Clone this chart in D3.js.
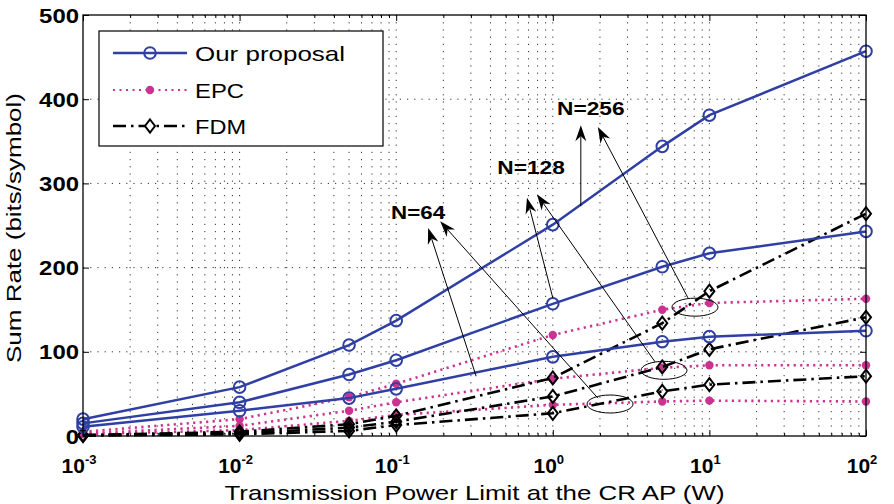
<!DOCTYPE html>
<html>
<head>
<meta charset="utf-8">
<script src="https://cdn.jsdelivr.net/npm/d3@7"></script>
<style>
  html, body { margin: 0; padding: 0; background: #fff; }
  svg { display: block; font-family: "Liberation Sans", Arial, Helvetica, sans-serif; }
</style>
</head>
<body>
<svg id="chart" width="894" height="504"></svg>
<script>
// Transmission power limits (W) at which each scheme was evaluated
const powerW = [0.001, 0.01, 0.05, 0.1, 1, 5, 10, 100];

// Sum rate (bits/symbol), proposed scheme
const oursN256 = [20, 58, 108, 137, 251, 344, 381, 457];
const oursN128 = [15, 40, 73, 90, 157, 201, 217, 243];
const oursN64  = [11, 30, 45, 56, 94, 112, 118, 125];

// Sum rate, equal power control
const epcN256 = [5, 20, 46, 62, 120, 150, 158, 163];
const epcN128 = [3, 12, 30, 40, 68, 81, 84, 84];
const epcN64  = [2, 7, 18, 25, 37, 41, 42, 41];

// Sum rate, FDM baseline
const fdmN256 = [1, 5, 14, 24, 69, 134, 172, 264];
const fdmN128 = [1, 3, 10, 17, 47, 82, 103, 141];
const fdmN64  = [0.5, 2, 6, 13, 27, 53, 61, 71];

// Axis ticks
const yTicks = [0, 100, 200, 300, 400, 500];
const xTickExponents = [-3, -2, -1, 0, 1, 2];

// Legend entries
const legendNames = ["Our proposal", "EPC", "FDM"];

// Annotation labels (data coordinates)
const annotLabels = [
  { text: "N=256", x: 1.75, y: 389 },
  { text: "N=128", x: 0.726, y: 319 },
  { text: "N=64",  x: 0.138, y: 266 }
];
// Annotation arrows: tail -> tip (data coordinates)
const annotArrows = [
  { x0: 1.51, y0: 273, x1: 1.51, y1: 369 },
  { x0: 7.3,  y0: 164, x1: 1.94, y1: 367 },
  { x0: 1.0,  y0: 164, x1: 0.684, y1: 283 },
  { x0: 4.5,  y0: 88,  x1: 0.792, y1: 287 },
  { x0: 0.324, y0: 71, x1: 0.160, y1: 247 },
  { x0: 1.94, y0: 45,  x1: 0.191, y1: 255 }
];
// Ellipses grouping the EPC/FDM curves of each N
const annotEllipses = [
  { x: 8.09, y: 153 },
  { x: 5.13, y: 78 },
  { x: 2.32, y: 38 }
];

const svg = d3.select("#chart");
const L = 83, R = 866, T = 15, B = 436;

const x = d3.scaleLog().domain([1e-3, 1e2]).range([L, R]);
const y = d3.scaleLinear().domain([0, 500]).range([B, T]);

const BLUE = "#2f3fa3";
const PINK = "#cc3390";

// Minor (log) tick positions
const minorX = [];
for (let e = -3; e < 2; e++) for (let k = 2; k <= 9; k++) minorX.push(k * Math.pow(10, e));
const majorX = xTickExponents.map(e => Math.pow(10, e));

// Grid
const grid = svg.append("g").attr("stroke", "#333").attr("stroke-width", 1)
  .attr("stroke-dasharray", "1.2,6").attr("fill", "none");
majorX.concat(minorX).forEach(v => {
  if (v <= 1e-3 || v >= 1e2) return;
  grid.append("line").attr("x1", x(v)).attr("x2", x(v)).attr("y1", T).attr("y2", B);
});
yTicks.filter(v => v > 0 && v < 500).forEach(v => {
  grid.append("line").attr("x1", L).attr("x2", R).attr("y1", y(v)).attr("y2", y(v));
});

// Axes with inward ticks
function styleAxis(g) {
  g.select(".domain").remove();
  g.selectAll(".tick line").attr("stroke", "#000").attr("stroke-width", 1);
  g.selectAll(".tick text").remove();
}
svg.append("g").attr("transform", `translate(0,${B})`)
  .call(d3.axisBottom(x).tickValues(majorX).tickSize(-6)).call(styleAxis);
svg.append("g").attr("transform", `translate(0,${B})`)
  .call(d3.axisBottom(x).tickValues(minorX).tickSize(-3)).call(styleAxis);
svg.append("g").attr("transform", `translate(0,${T})`)
  .call(d3.axisTop(x).tickValues(majorX).tickSize(-6)).call(styleAxis);
svg.append("g").attr("transform", `translate(0,${T})`)
  .call(d3.axisTop(x).tickValues(minorX).tickSize(-3)).call(styleAxis);
svg.append("g").attr("transform", `translate(${L},0)`)
  .call(d3.axisLeft(y).tickValues(yTicks).tickSize(-6)).call(styleAxis);
svg.append("g").attr("transform", `translate(${R},0)`)
  .call(d3.axisRight(y).tickValues(yTicks).tickSize(-6)).call(styleAxis);

// Tick labels
svg.append("g").selectAll("text").data(yTicks).join("text")
  .attr("x", L - 4).attr("y", d => y(d) + 7.5)
  .attr("text-anchor", "end").attr("font-size", 21).attr("font-weight", "bold")
  .attr("textLength", d => String(d).length * 13.3).attr("lengthAdjust", "spacingAndGlyphs")
  .text(d => d);

const xl = svg.append("g").selectAll("text").data(xTickExponents).join("text")
  .attr("x", d => x(Math.pow(10, d)) - 4).attr("y", 473)
  .attr("text-anchor", "middle").attr("font-size", 21).attr("font-weight", "bold");
xl.append("tspan").text("10");
xl.append("tspan").attr("dy", -9).attr("font-size", 13).text(d => d < 0 ? "-" + (-d) : String(d));

// Axis titles
svg.append("text").attr("x", (L + R) / 2).attr("y", 500)
  .attr("text-anchor", "middle").attr("font-size", 21)
  .attr("textLength", 500).attr("lengthAdjust", "spacingAndGlyphs")
  .text("Transmission Power Limit at the CR AP (W)");
svg.append("text").attr("transform", `translate(21,228) rotate(-90)`)
  .attr("text-anchor", "middle").attr("font-size", 20)
  .attr("textLength", 270).attr("lengthAdjust", "spacingAndGlyphs")
  .text("Sum Rate (bits/symbol)");

// Series
const line = d3.line().x((d, i) => x(powerW[i])).y(d => y(d));
const plot = svg.append("g");

function diamondPath(cx, cy) {
  const w = 5, h = 6.5;
  return `M${cx},${cy - h}L${cx + w},${cy}L${cx},${cy + h}L${cx - w},${cy}Z`;
}

function drawEPC(vals) {
  plot.append("path").datum(vals).attr("d", line).attr("fill", "none")
    .attr("stroke", PINK).attr("stroke-width", 2.6).attr("stroke-dasharray", "2.2,4.3");
  plot.append("g").selectAll("circle").data(vals).join("circle")
    .attr("cx", (d, i) => x(powerW[i])).attr("cy", d => y(d)).attr("r", 4.2).attr("fill", PINK);
}
function drawFDM(vals) {
  plot.append("path").datum(vals).attr("d", line).attr("fill", "none")
    .attr("stroke", "#000").attr("stroke-width", 2.6).attr("stroke-dasharray", "13,5,2.5,5");
  plot.append("g").selectAll("path").data(vals).join("path")
    .attr("d", (d, i) => diamondPath(x(powerW[i]), y(d)))
    .attr("fill", "none").attr("stroke", "#000").attr("stroke-width", 2);
}
function drawOurs(vals) {
  plot.append("path").datum(vals).attr("d", line).attr("fill", "none")
    .attr("stroke", BLUE).attr("stroke-width", 2.5);
  plot.append("g").selectAll("circle").data(vals).join("circle")
    .attr("cx", (d, i) => x(powerW[i])).attr("cy", d => y(d)).attr("r", 5.8)
    .attr("fill", "none").attr("stroke", BLUE).attr("stroke-width", 2);
}
[epcN256, epcN128, epcN64].forEach(drawEPC);
[fdmN256, fdmN128, fdmN64].forEach(drawFDM);
[oursN256, oursN128, oursN64].forEach(drawOurs);

// Plot box
svg.append("rect").attr("x", L).attr("y", T).attr("width", R - L).attr("height", B - T)
  .attr("fill", "none").attr("stroke", "#000").attr("stroke-width", 1.3);

// Annotations
const ann = svg.append("g");
annotEllipses.forEach(e => {
  ann.append("ellipse").attr("cx", x(e.x)).attr("cy", y(e.y)).attr("rx", 23).attr("ry", 9)
    .attr("fill", "none").attr("stroke", "#000").attr("stroke-width", 1);
});
annotArrows.forEach(a => {
  const tx = x(a.x1), ty = y(a.y1), sx = x(a.x0), sy = y(a.y0);
  const dx = tx - sx, dy = ty - sy, len = Math.hypot(dx, dy);
  const ux = dx / len, uy = dy / len, nx = -uy, ny = ux;
  const hl = 16, hw = 5.5, notch = 5;
  ann.append("line").attr("x1", sx).attr("y1", sy)
    .attr("x2", tx - ux * (hl - notch)).attr("y2", ty - uy * (hl - notch))
    .attr("stroke", "#000").attr("stroke-width", 1);
  ann.append("path")
    .attr("d", `M${tx},${ty}L${tx - ux * hl + nx * hw},${ty - uy * hl + ny * hw}` +
               `L${tx - ux * (hl - notch)},${ty - uy * (hl - notch)}` +
               `L${tx - ux * hl - nx * hw},${ty - uy * hl - ny * hw}Z`)
    .attr("fill", "#000");
});
ann.selectAll("text").data(annotLabels).join("text")
  .attr("x", d => x(d.x)).attr("y", d => y(d.y) + 6.5)
  .attr("text-anchor", "middle").attr("font-size", 18).attr("font-weight", "bold")
  .attr("textLength", d => d.text.length * 13.5).attr("lengthAdjust", "spacingAndGlyphs")
  .text(d => d.text);

// Legend
const leg = svg.append("g");
leg.append("rect").attr("x", 99).attr("y", 31).attr("width", 284).attr("height", 115)
  .attr("fill", "#fff").attr("stroke", "#000").attr("stroke-width", 1.2);
const rowY = [53, 90, 126];
const textW = [150, 49, 51];
legendNames.forEach((name, i) => {
  const ly = rowY[i];
  const ln = leg.append("line").attr("x1", 113).attr("x2", 187).attr("y1", ly).attr("y2", ly);
  if (i === 0) {
    ln.attr("stroke", BLUE).attr("stroke-width", 2.5);
    leg.append("circle").attr("cx", 150).attr("cy", ly).attr("r", 5.8)
      .attr("fill", "none").attr("stroke", BLUE).attr("stroke-width", 2);
  } else if (i === 1) {
    ln.attr("stroke", PINK).attr("stroke-width", 2).attr("stroke-dasharray", "2,4.5");
    leg.append("circle").attr("cx", 150).attr("cy", ly).attr("r", 4.2).attr("fill", PINK);
  } else {
    ln.attr("stroke", "#000").attr("stroke-width", 2.5).attr("stroke-dasharray", "13,5,2.5,5");
    leg.append("path").attr("d", diamondPath(150, ly)).attr("fill", "#fff")
      .attr("stroke", "#000").attr("stroke-width", 2);
  }
  leg.append("text").attr("x", 195).attr("y", ly + 7.5).attr("font-size", 21)
    .attr("textLength", textW[i]).attr("lengthAdjust", "spacingAndGlyphs")
    .text(name);
});
</script>
</body>
</html>
